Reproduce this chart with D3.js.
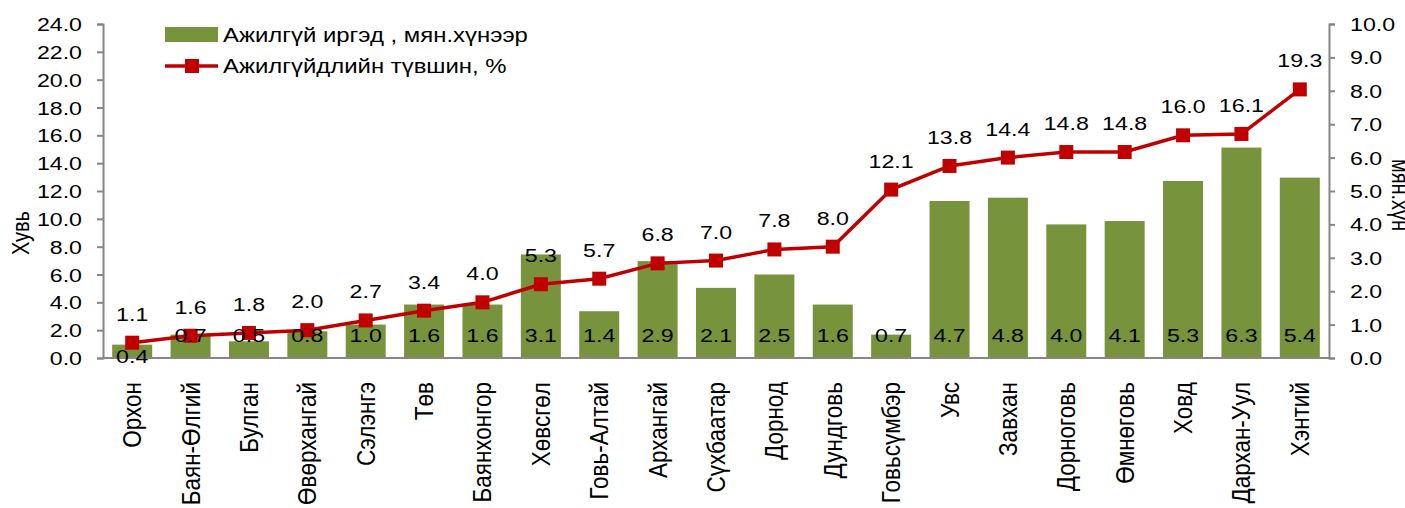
<!DOCTYPE html>
<html>
<head>
<meta charset="utf-8">
<script src="https://cdn.jsdelivr.net/npm/d3@7"></script>
<style>
  body { margin: 0; background: #fff; }
  svg text { font-family: "Liberation Sans", Arial, sans-serif; fill: #000; }
</style>
</head>
<body>
<div id="chart"></div>
<script>
var aimags = ["Орхон", "Баян-Өлгий", "Булган", "Өвөрхангай", "Сэлэнгэ", "Төв", "Баянхонгор",
  "Хөвсгөл", "Говь-Алтай", "Архангай", "Сүхбаатар", "Дорнод", "Дундговь", "Говьсүмбэр",
  "Увс", "Завхан", "Дорноговь", "Өмнөговь", "Ховд", "Дархан-Уул", "Хэнтий"];
// ажилгүй иргэд, мян.хүн (right axis)
var unemployed = [0.4, 0.7, 0.5, 0.8, 1.0, 1.6, 1.6, 3.1, 1.4, 2.9, 2.1, 2.5, 1.6, 0.7,
  4.7, 4.8, 4.0, 4.1, 5.3, 6.3, 5.4];
// ажилгүйдлийн түвшин, % (left axis)
var rate = [1.1, 1.6, 1.8, 2.0, 2.7, 3.4, 4.0, 5.3, 5.7, 6.8, 7.0, 7.8, 8.0, 12.1,
  13.8, 14.4, 14.8, 14.8, 16.0, 16.1, 19.3];
var leftTicks = [0, 2, 4, 6, 8, 10, 12, 14, 16, 18, 20, 22, 24];
var rightTicks = [0, 1, 2, 3, 4, 5, 6, 7, 8, 9, 10];
var legendLabels = ["Ажилгүй иргэд , мян.хүнээр", "Ажилгүйдлийн түвшин, %"];

var width = 1405, height = 508;
var pLeft = 103, pRight = 1329, pTop = 24, pBottom = 358;
var green = "#77933C", red = "#C00000", axisColor = "#868686";
var fs = 19, sx = 1.22;   // text in the picture is stretched horizontally

var svg = d3.select("#chart").append("svg")
  .attr("width", width).attr("height", height);

var x = d3.scaleBand().domain(aimags).range([pLeft, pRight])
  .paddingInner(0.315).paddingOuter(0.1575);
var yL = d3.scaleLinear().domain([0, 24]).range([pBottom, pTop]);
var yR = d3.scaleLinear().domain([0, 10]).range([pBottom, pTop]);

function stretched(g, tx, ty, txt, anchor, size) {
  return g.append("text")
    .attr("transform", "translate(" + tx + "," + ty + ") scale(" + sx + ",1)")
    .attr("text-anchor", anchor)
    .attr("font-size", size || fs)
    .text(txt);
}

// bars
svg.append("g").selectAll("rect")
  .data(unemployed).enter().append("rect")
  .attr("x", function(d, i) { return x(aimags[i]); })
  .attr("y", function(d) { return yR(d); })
  .attr("width", x.bandwidth())
  .attr("height", function(d) { return pBottom - yR(d); })
  .attr("fill", green);

// axes
var gl = svg.append("g").attr("transform", "translate(" + pLeft + ",0)")
  .call(d3.axisLeft(yL).tickValues(leftTicks).tickSize(6).tickFormat(""));
var gr = svg.append("g").attr("transform", "translate(" + pRight + ",0)")
  .call(d3.axisRight(yR).tickValues(rightTicks).tickSize(6).tickFormat(""));
[gl, gr].forEach(function(g) {
  g.selectAll("path, line").attr("stroke", axisColor).attr("stroke-width", 2);
});

svg.append("line")
  .attr("x1", pLeft).attr("x2", pRight).attr("y1", pBottom).attr("y2", pBottom)
  .attr("stroke", axisColor).attr("stroke-width", 2);

var tl = svg.append("g");
leftTicks.forEach(function(t) {
  stretched(tl, 82, yL(t) + 7, d3.format(".1f")(t), "end");
});
rightTicks.forEach(function(t) {
  stretched(tl, 1350, yR(t) + 7, d3.format(".1f")(t), "start");
});

// axis titles
svg.append("text")
  .attr("transform", "translate(29,233) rotate(-90) scale(1,1.2)")
  .attr("text-anchor", "middle").attr("font-size", 20).text("Хувь");
svg.append("text")
  .attr("transform", "translate(1392,195) rotate(90) scale(1,1.2)")
  .attr("text-anchor", "middle").attr("font-size", 20).text("мян.хүн");

// category labels
svg.append("g").selectAll("text")
  .data(aimags).enter().append("text")
  .attr("transform", function(d) {
    return "translate(" + (x(d) + x.bandwidth() / 2 + 9) + ",382) rotate(-90) scale(1,1.18)";
  })
  .attr("text-anchor", "end")
  .attr("font-size", 22.5)
  .text(function(d) { return d; });

// line
var line = d3.line()
  .x(function(d, i) { return x(aimags[i]) + x.bandwidth() / 2; })
  .y(function(d) { return yL(d); });
svg.append("path").datum(rate)
  .attr("d", line).attr("fill", "none")
  .attr("stroke", red).attr("stroke-width", 3.5);
svg.append("g").selectAll("rect")
  .data(rate).enter().append("rect")
  .attr("x", function(d, i) { return x(aimags[i]) + x.bandwidth() / 2 - 7; })
  .attr("y", function(d) { return yL(d) - 7; })
  .attr("width", 14).attr("height", 14)
  .attr("fill", red);

// value labels
var vl = svg.append("g");
unemployed.forEach(function(v, i) {
  var cx = x(aimags[i]) + x.bandwidth() / 2;
  var h = pBottom - yR(v);
  var by = h < 15 ? yR(v) + 18 : pBottom - 16;
  stretched(vl, cx, by, d3.format(".1f")(v), "middle");
});
rate.forEach(function(v, i) {
  var cx = x(aimags[i]) + x.bandwidth() / 2;
  stretched(vl, cx, yL(v) - 22, d3.format(".1f")(v), "middle");
});

// legend
var lg = svg.append("g");
lg.append("rect").attr("x", 165).attr("y", 27).attr("width", 53).attr("height", 15)
  .attr("fill", green);
stretched(lg, 223, 42, legendLabels[0], "start", 19.6);
lg.append("line").attr("x1", 165).attr("x2", 218).attr("y1", 66).attr("y2", 66)
  .attr("stroke", red).attr("stroke-width", 3.5);
lg.append("rect").attr("x", 185).attr("y", 59).attr("width", 14).attr("height", 14)
  .attr("fill", red);
stretched(lg, 223, 73, legendLabels[1], "start", 19.6);
</script>
</body>
</html>
